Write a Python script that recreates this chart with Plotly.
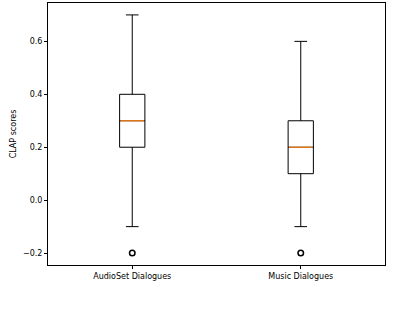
import plotly.graph_objects as go

categories = ["AudioSet Dialogues", "Music Dialogues"]
positions = [1, 2]
q1 = [0.2, 0.1]
median = [0.3, 0.2]
q3 = [0.4, 0.3]
lower_whisker = [-0.1, -0.1]
upper_whisker = [0.7, 0.6]
outliers = [[-0.2], [-0.2]]
y_ticks = [-0.2, 0.0, 0.2, 0.4, 0.6]

box_width = 0.15
font = dict(family="DejaVu Sans", size=8, color="black")

fig = go.Figure()
for i in range(len(categories)):
    fig.add_trace(go.Box(
        x=[positions[i]], q1=[q1[i]], median=[median[i]], q3=[q3[i]],
        lowerfence=[lower_whisker[i]], upperfence=[upper_whisker[i]],
        width=box_width, whiskerwidth=0.5, boxpoints=False,
        fillcolor="rgba(0,0,0,0)", line=dict(color="black", width=1),
        showlegend=False, hoverinfo="skip",
    ))
    fig.add_trace(go.Scatter(
        x=[positions[i] - box_width / 2 + 0.005, positions[i] + box_width / 2 - 0.005],
        y=[median[i], median[i]], mode="lines",
        line=dict(color="#ff7f0e", width=1.2), showlegend=False, hoverinfo="skip",
    ))
    fig.add_trace(go.Scatter(
        x=[positions[i]] * len(outliers[i]), y=outliers[i], mode="markers",
        marker=dict(symbol="circle-open", size=5.5, color="black", line=dict(width=1.5)),
        showlegend=False, hoverinfo="skip",
    ))

ymin = min(min(o) for o in outliers)
ymax = max(upper_whisker)
pad = (ymax - ymin) * 0.05

fig.update_layout(
    width=398, height=312,
    margin=dict(l=48, r=13, t=3, b=47),
    paper_bgcolor="white", plot_bgcolor="white",
    font=font,
    xaxis=dict(
        range=[0.5, 2.5], tickvals=positions, ticktext=categories,
        showgrid=False, zeroline=False, showline=True, mirror=True,
        linecolor="black", linewidth=1, ticks="outside", ticklen=3,
        tickcolor="black", tickfont=font,
    ),
    yaxis=dict(
        range=[ymin - pad, ymax + pad], tickvals=y_ticks, tickformat=".1f",
        showgrid=False, zeroline=False, showline=True, mirror=True,
        linecolor="black", linewidth=1, ticks="outside", ticklen=3,
        tickcolor="black", tickfont=font,
        title=dict(text="CLAP scores", font=font, standoff=5),
    ),
)

fig.write_html("out.html", config={"displayModeBar": False},
               post_script="document.body.style.margin='0';")
